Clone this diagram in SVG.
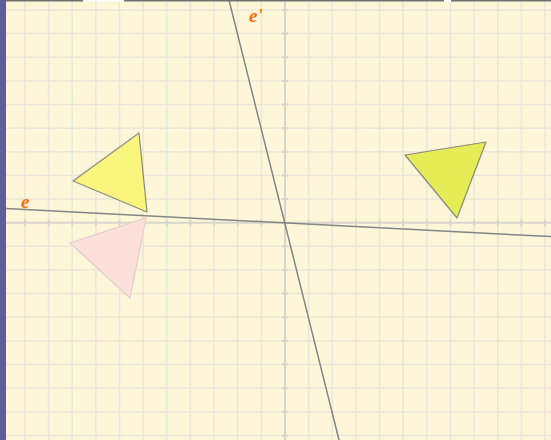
<svg xmlns="http://www.w3.org/2000/svg" width="551" height="440" viewBox="0 0 551 440">
<style>
.grid{stroke:#ebe6d7;stroke-width:1.5;fill:none}
.axis{stroke:#d9d5cb;stroke-width:2;fill:none}
.line{stroke:#858585;stroke-width:1.5;fill:none}
.lbl{font-family:"Liberation Serif",serif;font-style:italic;font-weight:bold;font-size:19px;fill:#ff6a00}
.tri{stroke:#8a8a80;stroke-width:1.2;stroke-linejoin:round}
</style>
<rect x="0" y="0" width="551" height="440" fill="#fdf6d9"/>
<g id="grid">
<path class="grid" d="M24.9 0V440M48.6 0V440M72.2 0V440M95.9 0V440M119.5 0V440M143.2 0V440M166.8 0V440M190.4 0V440M214.1 0V440M237.7 0V440M261.4 0V440M308.6 0V440M332.3 0V440M355.9 0V440M379.6 0V440M403.2 0V440M426.8 0V440M450.5 0V440M474.1 0V440M497.8 0V440M521.4 0V440M545 0V440"/>
<path class="grid" d="M0 10H551M0 33.6H551M0 57.3H551M0 80.9H551M0 104.6H551M0 128.2H551M0 151.8H551M0 175.5H551M0 199.1H551M0 246.3H551M0 270H551M0 293.6H551M0 317.3H551M0 340.9H551M0 364.5H551M0 388.2H551M0 411.8H551M0 435.5H551"/>
<path class="axis" d="M285 0V440M0 222.7H551"/>
<path class="axis" d="M282 10h6M282 33.6h6M282 57.3h6M282 80.9h6M282 104.6h6M282 128.2h6M282 151.8h6M282 175.5h6M282 199.1h6M282 246.3h6M282 270h6M282 293.6h6M282 317.3h6M282 340.9h6M282 364.5h6M282 388.2h6M282 411.8h6M282 435.5h6M24.9 219.7v6M48.6 219.7v6M72.2 219.7v6M95.9 219.7v6M119.5 219.7v6M143.2 219.7v6M166.8 219.7v6M190.4 219.7v6M214.1 219.7v6M237.7 219.7v6M261.4 219.7v6M308.6 219.7v6M332.3 219.7v6M355.9 219.7v6M379.6 219.7v6M403.2 219.7v6M426.8 219.7v6M450.5 219.7v6M474.1 219.7v6M497.8 219.7v6M521.4 219.7v6M545 219.7v6"/>
</g>
<g id="triangle-image">
<polygon points="70,243 146,218 130,298" fill="#fbe1da" stroke="#e6cccc" stroke-width="1.2"/>
</g>
<g id="triangle-original">
<polygon class="tri" points="73,181 139,133 147,212" fill="#faf57c"/>
</g>
<g id="triangle-right">
<polygon class="tri" points="405,155 486,142 457,218" fill="#e5ec55"/>
</g>
<g id="connectors">
<line class="line" x1="6" y1="208.6" x2="551" y2="236.6"/>
<line class="line" x1="229" y1="0" x2="339" y2="440"/>
</g>
<g id="labels">
<text class="lbl" x="21" y="208">e</text>
<text class="lbl" x="249" y="22">e'</text>
</g>
<g id="frame">
<rect x="0" y="0" width="6" height="440" fill="#5f5e96"/>
<rect x="6" y="0" width="77" height="1.5" fill="#707070"/>
<rect x="83" y="0" width="41" height="1.5" fill="#ffffff"/>
<rect x="124" y="0" width="320" height="1.5" fill="#707070"/>
<rect x="444" y="0" width="7" height="1.5" fill="#ffffff"/>
<rect x="451" y="0" width="100" height="1.5" fill="#707070"/>
</g>
</svg>
